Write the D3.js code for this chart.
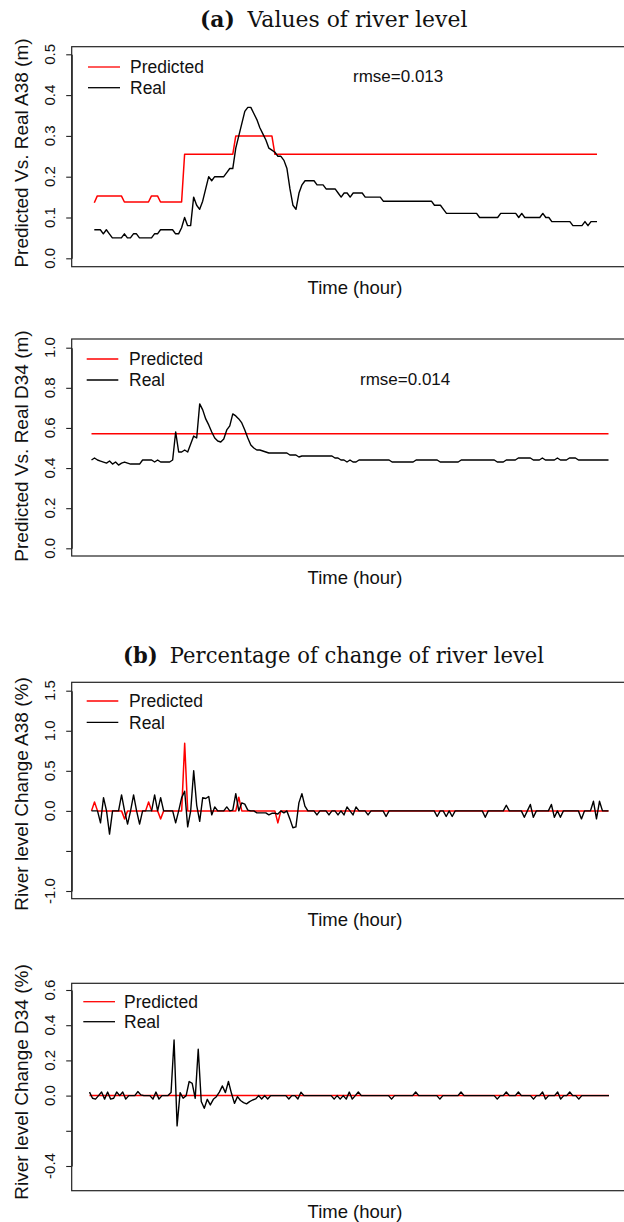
<!DOCTYPE html>
<html><head><meta charset="utf-8">
<script src="https://cdn.jsdelivr.net/npm/d3@7/dist/d3.min.js"></script>
<style>body{margin:0;background:#fff}svg{display:block}</style>
</head><body>
<svg id="c" width="624" height="1222"></svg>
<script>
// ---------- data ----------
const realA38 = [0.07,0.07,0.07,0.06,0.07,0.06,0.05,0.05,0.05,0.05,0.06,0.05,0.05,0.06,0.06,0.05,0.05,0.05,0.05,0.05,
0.06,0.06,0.07,0.07,0.07,0.07,0.07,0.06,0.06,0.075,0.1,0.08,0.08,0.15,0.13,0.12,0.14,0.17,0.2,0.19,
0.2,0.2,0.2,0.2,0.21,0.22,0.22,0.27,0.3,0.33,0.36,0.37,0.37,0.355,0.34,0.32,0.305,0.29,0.27,0.265,
0.26,0.25,0.25,0.24,0.22,0.17,0.13,0.12,0.16,0.18,0.19,0.19,0.19,0.19,0.18,0.18,0.18,0.17,0.17,0.17,
0.17,0.16,0.15,0.16,0.16,0.15,0.16,0.16,0.16,0.16,0.15,0.15,0.15,0.15,0.15,0.15,0.14,0.14,0.14,0.14,
0.14,0.14,0.14,0.14,0.14,0.14,0.14,0.14,0.14,0.14,0.14,0.14,0.14,0.13,0.13,0.13,0.12,0.11,0.11,0.11,
0.11,0.11,0.11,0.11,0.11,0.11,0.11,0.11,0.10,0.10,0.10,0.10,0.10,0.10,0.10,0.11,0.11,0.11,0.11,0.11,
0.11,0.10,0.11,0.10,0.10,0.10,0.10,0.10,0.10,0.11,0.10,0.10,0.09,0.09,0.09,0.09,0.09,0.09,0.09,0.08,
0.08,0.08,0.08,0.09,0.08,0.09,0.09,0.09];
const predA38 = [0.136,0.153,0.153,0.153,0.153,0.153,0.153,0.153,0.153,0.153,0.138,0.138,0.138,0.138,0.138,0.138,0.138,0.138,0.138,0.153,
0.153,0.153,0.138,0.138,0.138,0.138,0.138,0.138,0.138,0.138,0.255,0.255,0.255,0.255,0.255,0.255,0.255,0.255,0.255,0.255,
0.255,0.255,0.255,0.255,0.255,0.255,0.255,0.3,0.3,0.3,0.3,0.3,0.3,0.3,0.3,0.3,0.3,0.3,0.3,0.3,
0.255,0.255,0.255,0.255,0.255,0.255,0.255,0.255,0.255,0.255,0.255,0.255,0.255,0.255,0.255,0.255,0.255,0.255,0.255,0.255,
0.255,0.255,0.255,0.255,0.255,0.255,0.255,0.255,0.255,0.255,0.255,0.255,0.255,0.255,0.255,0.255,0.255,0.255,0.255,0.255,
0.255,0.255,0.255,0.255,0.255,0.255,0.255,0.255,0.255,0.255,0.255,0.255,0.255,0.255,0.255,0.255,0.255,0.255,0.255,0.255,
0.255,0.255,0.255,0.255,0.255,0.255,0.255,0.255,0.255,0.255,0.255,0.255,0.255,0.255,0.255,0.255,0.255,0.255,0.255,0.255,
0.255,0.255,0.255,0.255,0.255,0.255,0.255,0.255,0.255,0.255,0.255,0.255,0.255,0.255,0.255,0.255,0.255,0.255,0.255,0.255,
0.255,0.255,0.255,0.255,0.255,0.255,0.255,0.255];
const realD34 = [0.44,0.45,0.44,0.435,0.43,0.425,0.435,0.42,0.43,0.415,0.425,0.43,0.425,0.42,0.42,0.42,0.42,0.44,0.44,0.44,
0.44,0.43,0.44,0.43,0.43,0.43,0.43,0.44,0.58,0.48,0.48,0.49,0.48,0.52,0.56,0.55,0.72,0.69,0.645,0.615,
0.58,0.55,0.535,0.53,0.545,0.59,0.61,0.67,0.66,0.645,0.625,0.59,0.55,0.515,0.5,0.49,0.49,0.485,0.48,0.475,
0.475,0.475,0.475,0.475,0.475,0.475,0.465,0.465,0.465,0.455,0.46,0.46,0.46,0.46,0.46,0.46,0.46,0.46,0.46,0.46,
0.46,0.45,0.45,0.44,0.44,0.43,0.44,0.43,0.43,0.44,0.44,0.44,0.44,0.44,0.44,0.44,0.44,0.44,0.44,0.44,
0.43,0.43,0.43,0.43,0.43,0.43,0.43,0.43,0.44,0.44,0.44,0.44,0.44,0.44,0.44,0.44,0.43,0.43,0.43,0.43,
0.43,0.43,0.43,0.44,0.44,0.44,0.44,0.44,0.44,0.44,0.44,0.44,0.44,0.44,0.44,0.43,0.43,0.43,0.44,0.44,
0.44,0.44,0.45,0.45,0.45,0.45,0.45,0.44,0.44,0.44,0.45,0.44,0.44,0.44,0.44,0.45,0.44,0.44,0.44,0.45,
0.45,0.45,0.44,0.44,0.44,0.44,0.44,0.44,0.44,0.44,0.44,0.44,0.44];
const predD34 = [0.571,0.571,0.571,0.571,0.571,0.571,0.571,0.571,0.571,0.571,0.571,0.571,0.571,0.571,0.571,0.571,0.571,0.571,0.571,0.571,
0.571,0.571,0.571,0.571,0.571,0.571,0.571,0.571,0.571,0.571,0.571,0.571,0.571,0.571,0.571,0.571,0.571,0.571,0.571,0.571,
0.571,0.571,0.571,0.571,0.571,0.571,0.571,0.571,0.571,0.571,0.571,0.571,0.571,0.571,0.571,0.571,0.571,0.571,0.571,0.571,
0.571,0.571,0.571,0.571,0.571,0.571,0.571,0.571,0.571,0.571,0.571,0.571,0.571,0.571,0.571,0.571,0.571,0.571,0.571,0.571,
0.571,0.571,0.571,0.571,0.571,0.571,0.571,0.571,0.571,0.571,0.571,0.571,0.571,0.571,0.571,0.571,0.571,0.571,0.571,0.571,
0.571,0.571,0.571,0.571,0.571,0.571,0.571,0.571,0.571,0.571,0.571,0.571,0.571,0.571,0.571,0.571,0.571,0.571,0.571,0.571,
0.571,0.571,0.571,0.571,0.571,0.571,0.571,0.571,0.571,0.571,0.571,0.571,0.571,0.571,0.571,0.571,0.571,0.571,0.571,0.571,
0.571,0.571,0.571,0.571,0.571,0.571,0.571,0.571,0.571,0.571,0.571,0.571,0.571,0.571,0.571,0.571,0.571,0.571,0.571,0.571,
0.571,0.571,0.571,0.571,0.571,0.571,0.571,0.571,0.571,0.571,0.571,0.571,0.571];
const chgRealA38 = [0,0,0,-0.15,0.165,0,-0.29,0,0,0,0.2,0,-0.165,0,0.2,0,-0.165,0,0,0,
0,0.2,0,0.165,0,0,0,0,-0.15,0,0.165,0.245,-0.2,0,0.5,0.07,-0.13,0.165,0.155,0.18,
-0.05,0.05,0,0,0,0.05,0,0.01,0.215,0,0.1,0.085,0.01,0,0,-0.025,-0.025,-0.025,-0.025,-0.05,
-0.03,-0.03,-0.04,0,-0.025,0,-0.1,-0.21,-0.2,0.1,0.215,0.06,0,0,0,-0.05,0,0,0,-0.05,
0,0,-0.05,0,-0.05,0.05,0,-0.05,0.05,0,0,0,-0.05,0,0,0,0,0,-0.07,0,
0,0,0,0,0,0,0,0,0,0,0,0,0,0,0,-0.07,0,0,-0.07,0,
-0.07,0,0,0,0,0,0,0,0,0,0,-0.08,0,0,0,0,0,0,0.07,0,
0,0,0,0,-0.08,0,0.08,-0.08,0,0,0,0,0,0.08,-0.08,0,-0.08,0,0,0,
0,0,0,-0.1,0,0,0,0.12,-0.1,0.12,0,0,0];
const chgPredA38 = [0,0.11,0,0,0,0,0,0,0,0,0,-0.1,0,0,0,0,0,0,0,0.11,
0,0,0,-0.1,0,0,0,0,0,0,0,0.845,0,0,0,0,0,0,0,0,
0,0,0,0,0,0,0,0,0,0.17,0,0,0,0,0,0,0,0,0,0,
0,0,-0.15,0,0,0,0,0,0,0,0,0,0,0,0,0,0,0,0,0,
0,0,0,0,0,0,0,0,0,0,0,0,0,0,0,0,0,0,0,0,
0,0,0,0,0,0,0,0,0,0,0,0,0,0,0,0,0,0,0,0,
0,0,0,0,0,0,0,0,0,0,0,0,0,0,0,0,0,0,0,0,
0,0,0,0,0,0,0,0,0,0,0,0,0,0,0,0,0,0,0,0,
0,0,0,0,0,0,0,0,0,0,0,0,0];
const chgRealD34 = [0.02,-0.015,-0.02,0,0.02,-0.02,0.02,-0.02,-0.015,0.02,0,0.02,-0.02,0,0,0,0.023,0.004,0,0,
0,-0.02,0.02,-0.02,0,0,0,0.017,0.316,-0.172,0.017,-0.015,0,0.08,0.07,-0.015,0.263,-0.034,-0.072,-0.021,
-0.053,-0.021,-0.006,0.02,0.055,0.017,0.08,0.013,-0.044,-0.006,-0.028,-0.04,-0.047,-0.034,-0.025,-0.019,0,-0.019,0,-0.019,
0,0,0,0,0,0,-0.019,0,0,-0.019,0.019,0,0,0,0,0,0,0,0,0,
0,-0.02,0,-0.02,0,-0.02,0.02,-0.02,0,0.02,0,0,0,0,0,0,0,0,0,0,
-0.02,0,0,0,0,0,0,0,0.02,0,0,0,0,0,0,0,-0.02,0,0,0,
0,0,0,0.02,0,0,0,0,0,0,0,0,0,0,0,-0.02,0,0,0.02,0,
0,0,0.02,0,0,0,0,-0.02,0,0,0.02,-0.02,0,0,0,0.02,-0.02,0,0,0.02,
0,0,-0.02,0,0,0,0,0,0,0,0,0,0];
const chgPredD34 = [0,0,0,0,0,0,0,0,0,0,0,0,0,0,0,0,0,0,0,0,
0,0,0,0,0,0,0,0,0,0,0,0,0,0,0,0,0,0,0,0,
0,0,0,0,0,0,0,0,0,0,0,0,0,0,0,0,0,0,0,0,
0,0,0,0,0,0,0,0,0,0,0,0,0,0,0,0,0,0,0,0,
0,0,0,0,0,0,0,0,0,0,0,0,0,0,0,0,0,0,0,0,
0,0,0,0,0,0,0,0,0,0,0,0,0,0,0,0,0,0,0,0,
0,0,0,0,0,0,0,0,0,0,0,0,0,0,0,0,0,0,0,0,
0,0,0,0,0,0,0,0,0,0,0,0,0,0,0,0,0,0,0,0,
0,0,0,0,0,0,0,0,0,0,0,0,0];

const ticksA = [0, 0.1, 0.2, 0.3, 0.4, 0.5];
const tickLabelsA = ["0.0","0.1","0.2","0.3","0.4","0.5"];
const ticksB = [0, 0.2, 0.4, 0.6, 0.8, 1.0];
const tickLabelsB = ["0.0","0.2","0.4","0.6","0.8","1.0"];
const ticksC = [-1, -0.5, 0, 0.5, 1, 1.5];
const tickLabelsC = ["-1.0","","0.0","0.5","1.0","1.5"];
const ticksD = [-0.4, -0.2, 0, 0.2, 0.4, 0.6];
const tickLabelsD = ["-0.4","","0.0","0.2","0.4","0.6"];
const seriesNames = ["Predicted", "Real"];
const titleA = ["(a)", "Values of river level"];
const titleB = ["(b)", "Percentage of change of river level"];
const xTitle = "Time (hour)";

// ---------- layout ----------
const BOX_L = 71.7, BOX_R = 640, SANS = "'Liberation Sans', Arial, Helvetica, sans-serif";
const panels = [
  {real: realA38, pred: predA38, ticks: ticksA, labels: tickLabelsA, dom: [0, 0.5], yr: [258.3, 54.3],
   top: 46.7, bottom: 266.7, xr: [94.3, 597], ytitle: "Predicted Vs. Real A38 (m)", ytc: 153,
   leg: {y1: 67, y2: 87.7, l0: 88, l1: 120, tx: 130}, rmse: {t: "rmse=0.013", x: 353, y: 76}},
  {real: realD34, pred: predD34, ticks: ticksB, labels: tickLabelsB, dom: [0, 1], yr: [548.3, 347.7],
   top: 339, bottom: 556, xr: [91.5, 608.5], ytitle: "Predicted Vs. Real D34 (m)", ytc: 446,
   leg: {y1: 359, y2: 380, l0: 86.7, l1: 118.3, tx: 129}, rmse: {t: "rmse=0.014", x: 360, y: 379}},
  {real: chgRealA38, pred: chgPredA38, ticks: ticksC, labels: tickLabelsC, dom: [-1, 1.5], yr: [891, 690.7],
   top: 682.3, bottom: 898.7, xr: [91.5, 608.5], ytitle: "River level Change A38 (%)", ytc: 794,
   leg: {y1: 701, y2: 722.3, l0: 86.7, l1: 118.3, tx: 129}},
  {real: chgRealD34, pred: chgPredD34, ticks: ticksD, labels: tickLabelsD, dom: [-0.4, 0.6], yr: [1166, 990],
   top: 983.3, bottom: 1190.7, xr: [89.5, 609], ytitle: "River level Change D34 (%)", ytc: 1082,
   leg: {y1: 1001.7, y2: 1021.7, l0: 83.3, l1: 115, tx: 124}}
];

const svg = d3.select("#c");
svg.append("rect").attr("width", 624).attr("height", 1222).attr("fill", "#fff");

panels.forEach(p => {
  const g = svg.append("g");
  const x = d3.scaleLinear().domain([0, p.real.length - 1]).range(p.xr);
  const y = d3.scaleLinear().domain(p.dom).range(p.yr);

  // box
  g.append("rect").attr("x", BOX_L).attr("y", p.top).attr("width", BOX_R - BOX_L)
    .attr("height", p.bottom - p.top).attr("fill", "none").attr("stroke", "#222").attr("stroke-width", 1.2);

  // y axis
  const ax = g.append("g").attr("transform", `translate(${BOX_L},0)`)
    .call(d3.axisLeft(y).tickValues(p.ticks).tickSize(5.5).tickSizeOuter(0).tickFormat(""));
  ax.selectAll("path,line").attr("stroke", "#222").attr("stroke-width", 1.1);
  p.ticks.forEach((t, i) => {
    if (!p.labels[i]) return;
    g.append("text").attr("transform", `translate(55,${y(t)}) rotate(-90)`)
      .attr("text-anchor", "middle").attr("font-family", SANS).attr("font-size", 15)
      .attr("fill", "#111").text(p.labels[i]);
  });

  // y title
  g.append("text").attr("transform", `translate(27.5,${p.ytc}) rotate(-90)`)
    .attr("text-anchor", "middle").attr("font-family", SANS).attr("font-size", 19)
    .attr("fill", "#111").text(p.ytitle);

  // x title
  g.append("text").attr("x", 355).attr("y", p.bottom + 27.7).attr("text-anchor", "middle")
    .attr("font-family", SANS).attr("font-size", 18.5).attr("fill", "#111").text(xTitle);

  // lines
  const line = d3.line().x((d, i) => x(i)).y(d => y(d));
  g.append("path").datum(p.pred).attr("d", line).attr("fill", "none")
    .attr("stroke", "#ff0000").attr("stroke-width", 1.5).attr("stroke-linejoin", "round");
  g.append("path").datum(p.real).attr("d", line).attr("fill", "none")
    .attr("stroke", "#000").attr("stroke-width", 1.4).attr("stroke-linejoin", "round");

  // legend
  const lg = p.leg;
  [[lg.y1, "#ff0000", seriesNames[0]], [lg.y2, "#000", seriesNames[1]]].forEach(([yy, c, t]) => {
    g.append("line").attr("x1", lg.l0).attr("x2", lg.l1).attr("y1", yy).attr("y2", yy)
      .attr("stroke", c).attr("stroke-width", 1.3);
    g.append("text").attr("x", lg.tx).attr("y", yy).attr("dy", "0.36em")
      .attr("font-family", SANS).attr("font-size", 17.5).attr("fill", "#111").text(t);
  });

  if (p.rmse) {
    g.append("text").attr("x", p.rmse.x).attr("y", p.rmse.y).attr("dy", "0.36em")
      .attr("font-family", SANS).attr("font-size", 17).attr("fill", "#111").text(p.rmse.t);
  }
});

// titles
function title(parts, x0, x1, base) {
  const t = svg.append("text").attr("x", 0).attr("y", base)
    .attr("font-family", "'DejaVu Serif', 'Liberation Serif', serif").attr("font-size", 22.5).attr("fill", "#111");
  t.append("tspan").attr("font-weight", "bold").text(parts[0]);
  t.append("tspan").attr("dx", 13).text(parts[1]);
  const w = t.node().getComputedTextLength();
  const s = (x1 - x0) / w;
  t.attr("transform", `translate(${x0},0) scale(${s},1)`);
}
title(titleA, 200, 455, 27);
title(titleB, 123, 532, 663.5);
</script>
</body></html>
